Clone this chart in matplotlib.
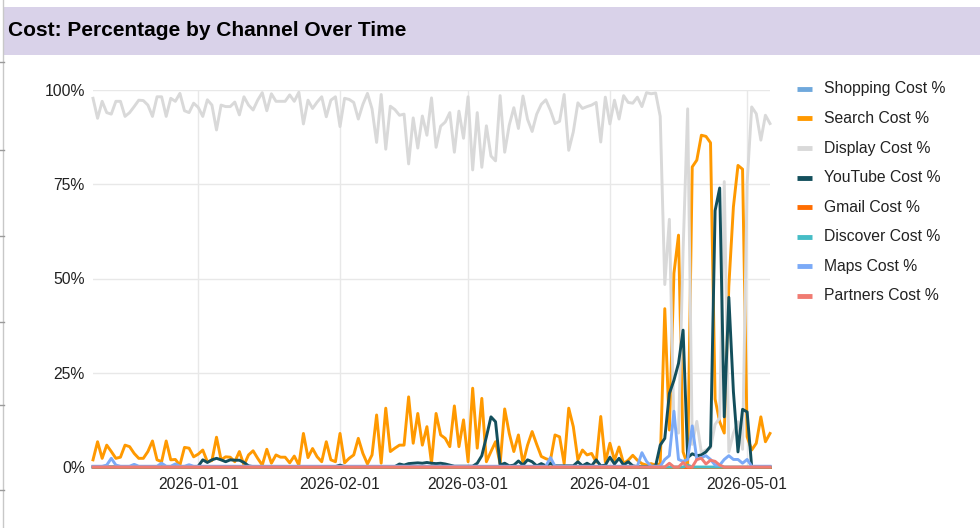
import numpy as np
import pandas as pd
import matplotlib
matplotlib.use("Agg")
import matplotlib.pyplot as plt
from matplotlib.lines import Line2D
from matplotlib.patches import Rectangle

plt.rcParams['font.family'] = ['Liberation Sans', 'DejaVu Sans']

start_date = "2025-12-09"
n_days = 149

series_names = ["Shopping Cost %", "Search Cost %", "Display Cost %", "YouTube Cost %",
                "Gmail Cost %", "Discover Cost %", "Maps Cost %", "Partners Cost %"]
series_colors = ["#6fa8dc", "#ff9900", "#d9d9d9", "#134f5c",
                 "#ff6d01", "#46bdc6", "#7baaf7", "#f07b72"]

search = [1.9, 6.7, 2.3, 5.8, 4.1, 2.3, 2.6, 5.8, 5.4, 3.6,
          2.3, 2.3, 4.1, 6.9, 1.9, 1.4, 6.9, 1.9, 2.0, 0.5,
          5.2, 5.0, 2.7, 3.4, 4.5, 1.4, 1.7, 7.9, 1.9, 2.7,
          2.6, 1.4, 4.1, 0.5, 3.2, 4.3, 2.3, 0.5, 4.7, 1.0,
          3.2, 2.6, 2.6, 1.1, 2.9, 0.5, 8.9, 2.5, 4.9, 2.7,
          1.4, 6.7, 1.9, 1.4, 8.9, 1.1, 2.3, 3.2, 7.6, 3.6,
          0.8, 3.2, 13.8, 1.0, 15.6, 4.1, 5.0, 5.8, 5.8, 18.6,
          6.3, 14.2, 5.8, 10.7, 1.0, 14.2, 8.5, 7.6, 5.4, 16.2,
          5.4, 12.5, 1.4, 20.9, 5.0, 18.2, 1.4, 4.1, 6.7, 0.8,
          15.4, 8.9, 4.1, 8.5, 1.0, 5.8, 9.4, 6.0, 2.8, 2.2,
          1.8, 8.5, 8.0, 0.9, 15.6, 10.7, 1.9, 4.5, 3.2, 3.6,
          1.3, 13.4, 1.3, 6.3, 1.8, 5.3, 0.9, 1.8, 3.1, 1.8,
          0.9, 0.5, 0.9, 0.5, 0.9, 42.0, 9.8, 51.4, 61.5, 4.0,
          0.5, 79.6, 81.4, 88.0, 87.7, 86.0, 18.0, 12.0, 9.0, 48.0,
          69.0, 80.0, 79.0, 8.0, 4.5, 6.3, 13.3, 6.7, 8.9]

display = [97.8, 92.5, 97.0, 94.0, 93.6, 97.0, 97.0, 93.0, 94.0, 95.6,
           97.3, 97.2, 96.0, 93.0, 98.2, 98.2, 93.0, 97.8, 97.0, 99.1,
           94.5, 94.0, 96.5, 95.4, 93.0, 97.4, 96.0, 89.4, 96.0, 95.6,
           95.6, 96.8, 93.4, 98.2, 96.0, 94.7, 97.3, 99.3, 94.5, 99.0,
           97.0, 97.0, 97.0, 98.7, 97.0, 99.4, 91.0, 97.3, 95.1, 96.8,
           98.2, 92.9, 97.3, 98.2, 90.3, 97.8, 97.5, 96.7, 92.3, 96.2,
           99.1, 95.0, 86.1, 98.8, 84.3, 95.7, 94.8, 93.3, 93.6, 80.4,
           92.6, 84.6, 93.1, 88.0, 97.9, 84.8, 90.4, 91.5, 94.0, 83.5,
           94.4, 87.2, 98.2, 78.8, 94.0, 79.5, 90.5, 82.5, 81.2, 98.5,
           83.5, 90.7, 95.3, 89.8, 98.4, 92.2, 89.0, 93.6, 96.2, 97.4,
           94.6, 91.1, 91.7, 98.8, 84.0, 88.9, 96.6, 95.1, 95.6, 96.0,
           96.7, 86.2, 98.1, 91.0, 97.3, 92.3, 98.5, 96.7, 96.5, 98.1,
           95.6, 99.3, 99.0, 99.2, 93.0, 48.4, 65.7, 10.8, 9.0, 57.4,
           95.0, 6.0, 12.1, 3.8, 4.5, 5.0, 11.3, 13.0, 75.7, 4.0,
           9.0, 12.0, 4.7, 75.4, 95.5, 93.7, 86.7, 93.3, 91.1]

youtube = [0, 0, 0, 0, 0, 0, 0, 0, 0, 0,
           0, 0, 0, 0, 0, 0, 0, 0, 0, 0,
           0, 0, 0, 0.2, 1.9, 1.2, 1.9, 2.3, 1.9, 1.4,
           1.9, 1.8, 1.8, 1.2, 0.3, 0.1, 0.1, 0.1, 0.1, 0.1,
           0.1, 0.1, 0.1, 0.1, 0.1, 0.1, 0.1, 0.1, 0.1, 0.1,
           0.1, 0.1, 0.1, 0.1, 0.5, 0.1, 0.1, 0.1, 0.1, 0.1,
           0.1, 0.1, 0.1, 0.1, 0.1, 0.1, 0.1, 0.8, 0.5, 0.9,
           1.0, 1.1, 1.0, 1.2, 1.0, 0.9, 1.0, 0.8, 0.5, 0.2,
           0.2, 0.2, 0.2, 0.2, 1.0, 3.0, 8.0, 13.3, 12.0, 0.5,
           1.0, 0.3, 0.5, 1.6, 0.5, 1.9, 1.4, 0.3, 0.9, 0.3,
           1.0, 0.3, 0.3, 0.3, 0.3, 0.3, 1.4, 0.3, 1.0, 0.3,
           1.9, 0.3, 0.5, 2.6, 0.8, 2.3, 0.5, 1.4, 0.3, 0.1,
           0.1, 0.1, 0.1, 0.3, 5.8, 7.6, 19.5, 23.0, 27.5, 36.3,
           2.5, 3.5, 3.0, 3.2, 4.0, 5.5, 68.0, 74.0, 13.3, 45.0,
           20.0, 4.0, 15.3, 14.6, 0, 0, 0, 0, 0]

maps = [0.2, 0.2, 0.2, 0.5, 2.3, 0.5, 0.2, 0.2, 0.2, 0.7,
        0.2, 0.2, 0.2, 0.2, 0.2, 1.0, 0.2, 0.2, 0.8, 0.2,
        0.2, 0.6, 0.2, 0.2, 0.2, 0.2, 0.2, 0.2, 0.2, 0.2,
        0.2, 0.2, 0.2, 0.2, 0.2, 0.2, 0.2, 0.2, 0.2, 0.2,
        0.2, 0.2, 0.2, 0.2, 0.2, 0.2, 0.2, 0.2, 0.2, 0.2,
        0.2, 0.2, 0.2, 0.2, 0.2, 0.2, 0.2, 0.2, 0.2, 0.2,
        0.2, 0.2, 0.2, 0.2, 0.2, 0.2, 0.2, 0.2, 0.2, 0.2,
        0.2, 0.2, 0.2, 0.2, 0.2, 0.2, 0.2, 0.2, 0.2, 0.2,
        0.2, 0.2, 0.2, 0.2, 0.2, 0.2, 0.2, 0.2, 0.2, 0.2,
        0.2, 0.2, 0.2, 0.2, 0.2, 0.2, 0.2, 0.2, 0.2, 0.2,
        2.5, 0.2, 0.2, 0.2, 0.2, 0.2, 0.2, 0.2, 0.2, 0.2,
        0.2, 0.2, 0.2, 0.2, 0.2, 0.2, 0.2, 0.2, 0.2, 0.2,
        3.8, 1.5, 0.2, 0.2, 0.2, 2.0, 3.0, 14.8, 2.0, 1.5,
        2.0, 10.9, 2.0, 2.5, 3.0, 2.0, 0.5, 0.5, 2.0, 3.0,
        2.0, 2.0, 1.0, 2.0, 0.2, 0.2, 0.2, 0.2, 0.2]

partners = [0.0] * 126 + [1.0, 0.0, 0.0, 1.2, 0.0, 0.0, 2.0, 2.3, 0.8, 1.8,
                          1.5, 0.5, 0.0, 0.0, 0.0, 0.0, 0.0, 0.0, 0.0, 0.0,
                          0.0, 0.0, 0.0]
gmail = [0.0] * n_days
discover = [0.0] * 130 + [0.5] + [0.0] * 18
shopping = [0.0] * n_days

dates = pd.date_range(start_date, periods=n_days, freq="D")
values = [shopping, search, display, youtube, gmail, discover, maps, partners]

W, H = 980, 528
fig = plt.figure(figsize=(W / 100, H / 100), dpi=100)
fig.patch.set_facecolor("white")

# title band
fig.patches.append(Rectangle((3 / W, 1 - 55 / H), 1 - 3 / W, 48 / H, transform=fig.transFigure,
                             facecolor="#d9d2e9", edgecolor="none", zorder=0))
fig.text(8 / W, 1 - 31 / H, "Cost: Percentage by Channel Over Time", fontsize=15,
         fontweight="bold", color="#000000", va="center", ha="left")
# sheet border bits
fig.add_artist(Line2D([2.5 / W, 2.5 / W], [0, 1], transform=fig.transFigure, color="#c8c8c8", lw=1))
for yy in [62, 150, 236, 322, 405, 490]:
    fig.add_artist(Line2D([0, 4 / W], [1 - yy / H, 1 - yy / H], transform=fig.transFigure,
                          color="#9a9a9a", lw=1))

ax = fig.add_axes([93 / W, (H - 467) / H, (770 - 93) / W, (467 - 90) / H])
for s in ax.spines.values():
    s.set_visible(False)

ax.set_xlim(dates[0], dates[-1])
ax.set_ylim(0, 100)
ax.set_yticks([0, 25, 50, 75, 100])
ax.set_yticklabels(["0%", "25%", "50%", "75%", "100%"])
month_ticks = pd.to_datetime(["2026-01-01", "2026-02-01", "2026-03-01", "2026-04-01", "2026-05-01"])
ax.set_xticks(month_ticks)
ax.set_xticklabels([d.strftime("%Y-%m-%d") for d in month_ticks])
ax.tick_params(axis="both", length=0, labelsize=11.3, colors="#222222")
ax.tick_params(axis="y", pad=6)
ax.tick_params(axis="x", pad=7)
ax.grid(True, color="#e8e8e8", lw=1)
ax.set_axisbelow(True)
ax.axhline(0, color="#333333", lw=1.2, zorder=1)

for i, (name, col, vals) in enumerate(zip(series_names, series_colors, values)):
    ax.plot(dates, vals, color=col, lw=2.1, zorder=2 + i, clip_on=False,
            solid_joinstyle="round")

# legend
for i, (name, col) in enumerate(zip(series_names, series_colors)):
    ypx = 89 + i * 29.5
    yf = 1 - ypx / H
    fig.add_artist(Line2D([797 / W, 812 / W], [yf, yf], transform=fig.transFigure,
                          color=col, lw=3.5, solid_capstyle="butt"))
    fig.text(824 / W, yf, name, fontsize=11.3, color="#222222", va="center", ha="left")

fig.savefig("out.png", dpi=100)
